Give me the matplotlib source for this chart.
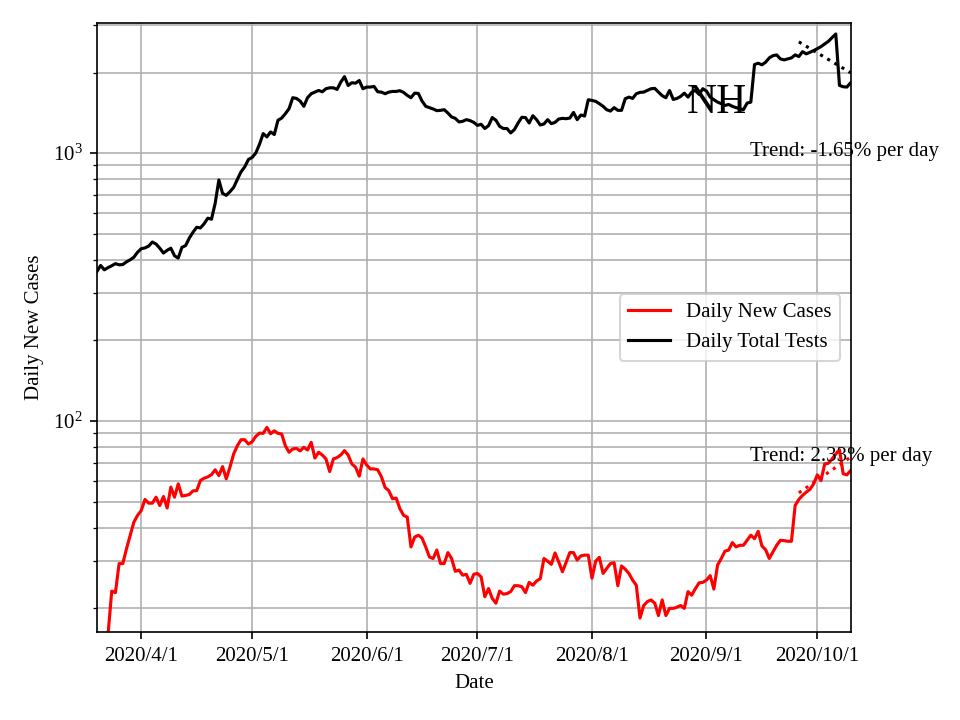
import numpy as np
import pandas as pd
import matplotlib
matplotlib.use("Agg")
import matplotlib.pyplot as plt
import matplotlib.dates as mdates
from matplotlib.ticker import FuncFormatter

plt.rcParams['font.family'] = ['Liberation Serif', 'DejaVu Serif']
plt.rcParams['mathtext.fontset'] = 'stix'

# 데이터
start_date = '2020-03-20'
n_days = 205

daily_tests = [
    362, 381, 367, 374, 380, 387, 383, 384, 393, 400,
    409, 427, 440, 443, 450, 466, 458, 442, 424, 434,
    442, 414, 406, 445, 452, 482, 507, 529, 526, 545,
    572, 567, 650, 794, 708, 696, 718, 745, 798, 852,
    889, 947, 964, 1002, 1080, 1183, 1150, 1200, 1174, 1327,
    1352, 1404, 1466, 1611, 1601, 1565, 1496, 1611, 1667, 1690,
    1714, 1695, 1740, 1754, 1754, 1730, 1841, 1930, 1789, 1832,
    1825, 1867, 1740, 1765, 1765, 1775, 1695, 1690, 1667, 1690,
    1700, 1700, 1711, 1686, 1643, 1611, 1675, 1671, 1565, 1496,
    1479, 1462, 1441, 1445, 1453, 1412, 1365, 1349, 1308, 1315,
    1334, 1323, 1303, 1270, 1282, 1236, 1267, 1358, 1327, 1260,
    1236, 1236, 1190, 1225, 1296, 1361, 1358, 1296, 1380, 1334,
    1274, 1285, 1334, 1289, 1303, 1341, 1349, 1345, 1352, 1419,
    1334, 1388, 1376, 1583, 1574, 1561, 1530, 1496, 1453, 1436,
    1479, 1445, 1445, 1597, 1619, 1601, 1667, 1686, 1690, 1714,
    1740, 1745, 1690, 1639, 1611, 1714, 1587, 1601,
    1629, 1675, 1619, 1690, 1714, 1657, 1740, 1705, 1619, 1583,
    1551, 1530, 1507, 1520, 1496, 1479, 1466, 1453,
    1538, 1551, 2142, 2166, 2137, 2185, 2268, 2312, 2327, 2249,
    2229, 2249, 2268, 2327, 2294, 2393, 2348, 2380, 2415, 2455,
    2500, 2557, 2615, 2700, 2786, 1790, 1770, 1765, 1830,
]

daily_cases = [
    10, 12, 11, 16,
    23.2, 22.9, 29.4, 29.4, 33.4, 37.5, 42.0, 44.5, 46.4, 51.0,
    49.4, 49.4, 52.0, 48.4, 52.3, 47.4, 56.7, 52.0, 58.3, 52.5,
    52.8, 53.2, 54.9, 55.0, 60.0, 61.2, 61.9, 63.1, 65.8, 62.6,
    67.6, 60.9, 67.3, 75.4, 80.9, 85.2, 85.2, 82.1, 83.7, 87.7,
    90.2, 90.0, 94.7, 89.7, 92.0, 90.0, 89.5, 80.9, 76.5, 78.7,
    79.1, 77.4, 79.8, 78.0, 83.3, 72.8, 76.5, 74.7, 72.2, 64.8,
    72.2, 73.1, 74.7, 77.6, 74.7, 69.2, 67.3, 62.3, 72.2, 68.6,
    66.3, 66.3, 65.8, 62.0, 56.5, 55.0,
    51.3, 51.6, 47.1,
    44.5, 43.8, 33.9, 36.9, 37.5, 36.6, 33.9, 31.1, 30.7, 33.0,
    29.4, 29.4, 32.3, 30.7, 27.5, 27.8, 26.6, 26.8, 24.8, 26.8,
    27.0, 26.2, 22.1, 23.7, 21.8, 20.9, 23.2, 22.6, 22.7, 23.1,
    24.3, 24.3, 24.1, 22.9, 25.0, 24.4, 25.3, 25.8, 30.7, 30.0,
    29.2, 32.2, 29.8, 27.4, 29.7, 32.3, 32.3, 30.3, 31.4, 31.6,
    31.6, 25.9, 30.0, 31.0, 27.0, 28.2, 29.4, 29.6, 24.3, 28.8,
    28.0, 27.0, 25.5, 24.4, 18.4, 20.5, 21.2, 21.5, 20.9, 18.8,
    21.5, 18.8, 20.0, 20.0, 20.2, 20.5, 20.0, 23.1, 22.4, 23.7,
    24.9, 25.0, 25.5, 26.5, 23.6, 29.0, 30.7, 32.7, 33.0, 35.2,
    33.9, 34.4, 34.4, 35.9, 37.5, 36.4, 38.8, 34.2, 33.1, 30.7,
    32.5, 34.4, 35.9, 35.8, 35.6, 35.6, 48.4, 51.0, 52.8, 54.3,
    55.6, 58.3, 63.0, 60.0, 69.2, 69.6, 72.2, 75.4, 78.2, 63.6,
    63.0, 65.3,
]

trend_labels = ['Trend: 2.33% per day', 'Trend: -1.65% per day']
trend_window = 15
state = 'NH'

dates = pd.date_range(start_date, periods=n_days, freq='D')

fig, ax = plt.subplots(figsize=(6.4, 4.8), dpi=150)
fig.subplots_adjust(left=0.101, right=0.886, bottom=0.122, top=0.968)

ax.plot(dates, daily_cases, color='red', label='Daily New Cases')
ax.plot(dates, daily_tests, color='black', label='Daily Total Tests')

# 최근 추세선 (지수 적합)
t = np.arange(trend_window)
for series, color in [(daily_cases, 'red'), (daily_tests, 'black')]:
    y = np.log(np.array(series[-trend_window:]))
    slope, intercept = np.polyfit(t, y, 1)
    ax.plot(dates[-trend_window:], np.exp(intercept + slope * t), ':', color=color)

ax.set_yscale('log')
ax.set_ylim(16.3, 3060)
ax.set_xlim(dates[0], dates[-1])

ax.xaxis.set_major_locator(mdates.MonthLocator(bymonthday=1))
ax.xaxis.set_major_formatter(FuncFormatter(
    lambda v, pos: (lambda d: f"{d.year}/{d.month}/{d.day}")(mdates.num2date(v))))

ax.grid(True, which='both')
ax.set_xlabel('Date')
ax.set_ylabel('Daily New Cases')
ax.legend(loc='center right')

ax.text(0.782, 0.852, state, transform=ax.transAxes, fontsize=20, va='baseline')
ax.text(0.866, 0.2808, trend_labels[0], transform=ax.transAxes, fontsize=10, va='baseline')
ax.text(0.866, 0.7816, trend_labels[1], transform=ax.transAxes, fontsize=10, va='baseline')

plt.savefig('out.png')
